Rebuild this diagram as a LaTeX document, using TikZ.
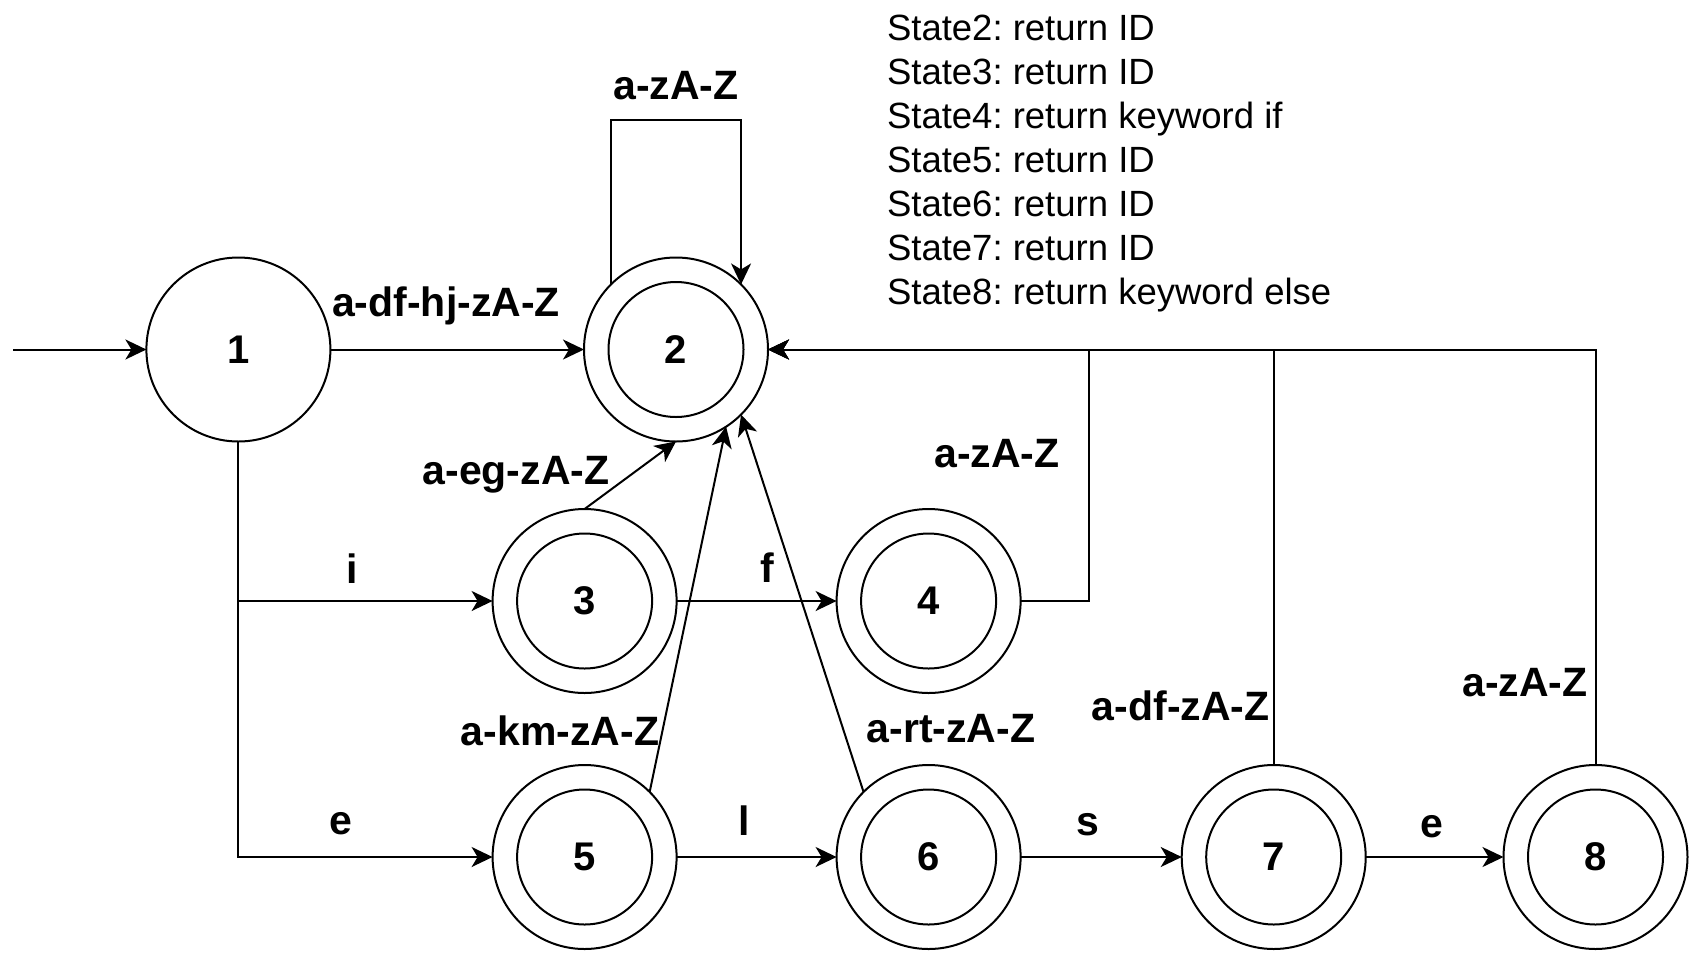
\documentclass[tikz,border=0pt]{standalone}
\usepackage{fontspec}
\setmainfont{Liberation Sans}
\usetikzlibrary{arrows.meta}
\frenchspacing
\begin{document}
\begin{tikzpicture}[x=1pt,y=-1pt,
  every node/.style={inner sep=0pt, outer sep=0pt},
  st/.style={circle, draw, line width=2pt, minimum size=184pt, font=\fontsize{40}{48}\selectfont\bfseries},
  acc/.style={st, path picture={\draw[line width=2pt] (path picture bounding box.center) circle[radius=67.5pt];}},
  arr/.style={line width=2pt, -{Stealth[length=21pt,width=20pt,inset=6pt]}},
  ln/.style={line width=2pt},
  lbl/.style={font=\fontsize{41}{49}\selectfont\bfseries, anchor=base},
]
\fill[white] (0,0) rectangle (1707,967);
\useasboundingbox (0,0) rectangle (1707,967);

% states
\node[st]  (n1) at (238.4,349.5) {1};
\node[acc] (n2) at (676,349.5) {2};
\node[acc] (n3) at (584.6,601) {3};
\node[acc] (n4) at (928.6,601) {4};
\node[acc] (n5) at (584.6,857) {5};
\node[acc] (n6) at (928.6,857) {6};
\node[acc] (n7) at (1273.7,857) {7};
\node[acc] (n8) at (1595.5,857) {8};

% legend
\node[anchor=north west, align=left, font=\fontsize{36.5}{44}\selectfont\frenchspacing] (legend) at (887,15.5)
  {State2: return ID\\State3: return ID\\State4: return keyword if\\State5: return ID\\State6: return ID\\State7: return ID\\State8: return keyword else};

% helper coordinates
\coordinate (s) at (13,349.5);
\coordinate (top) at (676,120);
\coordinate (j4) at (1089,349.5);

% edges
\draw[arr] (s) -- (n1);
\draw[arr] (n1) -- (n2);
\draw[arr] (n2.north west) -- (n2.north west |- top) -| (n2.north east);
\draw[arr] (n1.south) |- (n3.west);
\draw[arr] (n1.south) |- (n5.west);
\draw[arr] (n3.north) -- (n2.south);
\draw[arr] (n3) -- (n4);
\draw[arr] (n5.45) -- (n2.-57);
\draw[arr] (n6.north west) -- (n2.south east);
\draw[arr] (n5) -- (n6);
\draw[arr] (n6) -- (n7);
\draw[arr] (n7) -- (n8);
\draw[arr] (n4.east) -| (j4) -- (n2.east);
\draw[arr] (n7.north) |- (n2.east);
\draw[arr] (n8.north) |- (n2.east);

% labels
\node[lbl] (l22) at (676,99) {a-zA-Z};
\node[lbl] (l12) at (446,316) {a-df-hj-zA-Z};
\node[lbl] (l32) at (516,484) {a-eg-zA-Z};
\node[lbl] (l13) at (352.6,583) {i};
\node[lbl] (l15) at (341,834.7) {e};
\node[lbl] (l34) at (767,582) {f};
\node[lbl] (l52) at (560,745) {a-km-zA-Z};
\node[lbl] (l56) at (743.7,835) {l};
\node[lbl] (l62) at (951,742) {a-rt-zA-Z};
\node[lbl] (l67) at (1088,835) {s};
\node[lbl] (l42) at (997,467) {a-zA-Z};
\node[lbl] (l72) at (1180.7,720) {a-df-zA-Z};
\node[lbl] (l78) at (1432,837) {e};
\node[lbl] (l82) at (1525,696) {a-zA-Z};
\end{tikzpicture}
\end{document}
